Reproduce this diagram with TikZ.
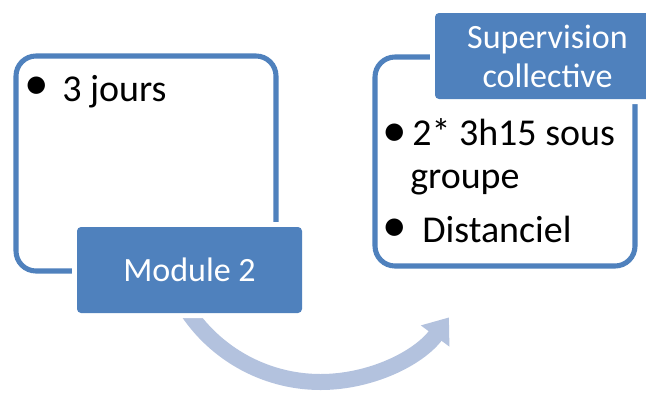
\documentclass[tikz,border=0pt]{standalone}
\usepackage{fontspec}
\setmainfont{Carlito}
\usetikzlibrary{arrows.meta}
\definecolor{accent}{RGB}{79,129,189}
\definecolor{arrowblue}{RGB}{179,194,222}
\begin{document}
\begin{tikzpicture}[
	box/.style={draw=accent, line width=3.6pt, fill=white, rounded corners=0.5cm, minimum width=6.5cm},
	tab/.style={fill=accent, text=white, rounded corners=0.1cm, minimum width=5.625cm, minimum height=2.15cm, preaction={draw=white, line width=0.25cm}, align=center, font=\fontsize{24.2}{27.7}\selectfont},
	bul/.style={inner sep=0pt, font=\fontsize{35}{40}\selectfont},
	txt/.style={inner sep=0pt, anchor=base west, font=\fontsize{27}{32}\selectfont}
	]
	
	\useasboundingbox (0, 0) rectangle (16.15, 9.8);
	\clip (0, 0) rectangle (16.15, 9.8);
	
	% curved arrow under the module
	\coordinate (c) at (8.0125, 4.25);
	\draw [line width=0.4cm, arrowblue, -{Triangle[width=0.85cm, length=0.58cm]}] ([shift={(210:4)}]c) arc [start angle=210, end angle=323.4, radius=4];
	
	\node (jours) [box, minimum height=5.375cm] at (3.65, 5.7125) {};
	\node (module) [tab] at (4.7375, 3.05) {Module 2};
	
	\node (dist) [box, minimum height=5.225cm] at (12.625, 5.7625) {};
	\node (superv) [tab] at (13.6875, 8.4) {Supervision\\collective};
	
	\foreach \i/\x/\y in {1/0.925/7.6, 2/9.875/6.425, 3/9.875/4.05} {
		\node (b\i) [bul] at (\x, \y) {•};
	}
	
	\node (t1) [txt] at (1.55, 7.275) {3 jours};
	\node (t2) [txt] at (10.3, 6.175) {2* 3h15 sous};
	\node (t3) [txt] at (10.25, 5.1) {groupe};
	\node (t4) [txt] at (10.55, 3.75) {Distanciel};
	
\end{tikzpicture}
\end{document}
